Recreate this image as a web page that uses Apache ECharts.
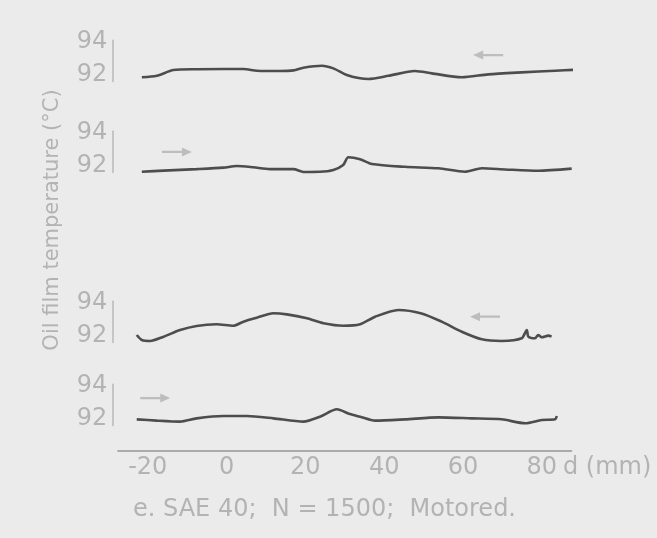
<!DOCTYPE html>
<html>
<head>
<meta charset="utf-8">
<script src="https://cdn.jsdelivr.net/npm/echarts@6/dist/echarts.min.js"></script>
<style>
html,body{margin:0;padding:0;background:#ebebeb;}
#chart{width:657px;height:538px;}
</style>
</head>
<body>
<div id="chart"></div>
<script>
// ---- data (d in mm, oil film temperature in °C) ----
const xTicks = [-20, 0, 20, 40, 60, 80];
const yTicks = [92, 94];

const trace1 = [[-21.5,91.86],[-17.7,91.95],[-13.5,92.30],[-7.6,92.35],[-0.8,92.36],[4.3,92.36],[7.7,92.26],[13.6,92.24],[17.0,92.28],[19.5,92.44],[24.2,92.56],[27.1,92.40],[30.5,92.00],[33.9,91.80],[36.0,91.76],[41.1,91.95],[47.8,92.24],[52.1,92.10],[59.7,91.86],[66.4,92.04],[74.9,92.16],[83.4,92.26],[88.5,92.32]];
const trace2 = [[-21.5,91.65],[-16.0,91.72],[-7.6,91.81],[-0.8,91.90],[2.6,92.00],[6.8,91.92],[11.0,91.81],[17.0,91.81],[19.5,91.64],[23.7,91.65],[27.1,91.76],[29.6,92.06],[30.9,92.53],[33.9,92.41],[36.9,92.12],[45.3,91.95],[53.8,91.86],[60.5,91.65],[64.8,91.86],[70.7,91.79],[79.1,91.71],[87.6,91.84]];
const trace3 = [[-22.8,92.06],[-21.5,91.76],[-19.4,91.70],[-16.0,91.96],[-11.8,92.36],[-7.6,92.61],[-2.5,92.71],[1.7,92.62],[4.3,92.87],[7.7,93.11],[11.9,93.38],[15.3,93.31],[20.4,93.07],[24.6,92.77],[29.6,92.62],[33.9,92.71],[37.7,93.17],[43.6,93.58],[49.5,93.37],[54.6,92.87],[59.7,92.26],[64.8,91.80],[69.8,91.70],[74.9,91.86],[76.2,92.36],[76.6,91.96],[78.3,91.86],[79.1,92.06],[80.0,91.92],[81.7,92.02],[82.5,91.96]];
const trace4 = [[-22.8,91.98],[-17.7,91.90],[-11.8,91.84],[-7.6,92.04],[-0.8,92.18],[5.1,92.18],[11.9,92.04],[19.5,91.84],[23.7,92.14],[28.0,92.59],[31.3,92.30],[33.9,92.14],[37.7,91.90],[45.3,91.98],[53.8,92.10],[62.2,92.04],[69.8,91.98],[75.8,91.74],[80.0,91.94],[83.4,91.98],[83.8,92.18]];

// direction arrows drawn on each panel
const arrowPanels = [0, 1, 2, 3];
const arrowD = [66.4, -12.6, 65.6, -18.1];
const arrowT = [93.21, 92.85, 93.17, 93.27];
const arrowDir = ['left', 'right', 'left', 'right'];

const traces = [trace1, trace2, trace3, trace4];

// ---- layout ----
const labelColor = '#b3b3b3';
const lineColor = '#4d4d4d';
const fontFam = '"DejaVu Sans", sans-serif';
const y92 = [75, 166, 336, 419];
const pxPerDeg = 16.5;
const yMin = 91.6, yMax = 94.1;
const xMin = -27.5, xMax = 87.5;

const grids = [], xAxes = [], yAxes = [], series = [];
y92.forEach((yy, i) => {
  const top = yy - (yMax - 92) * pxPerDeg;
  grids.push({ left: 118.2, width: 453.1, top: top, height: (yMax - yMin) * pxPerDeg });
  const isBottom = i === 3;
  xAxes.push({
    type: 'value', gridIndex: i, min: xMin, max: xMax,
    show: isBottom,
    offset: isBottom ? 25.4 : 0,
    axisLine: { show: isBottom, onZero: false, lineStyle: { color: '#aaaaaa', width: 2 } },
    axisTick: { show: false },
    splitLine: { show: false },
    axisLabel: {
      show: isBottom, customValues: xTicks, margin: 5,
      color: labelColor, fontSize: 24, fontFamily: fontFam
    }
  });
  yAxes.push({
    type: 'value', gridIndex: i, min: yMin, max: yMax,
    offset: 5,
    axisLine: { show: true, onZero: false, lineStyle: { color: '#b8b8b8', width: 1.5 } },
    axisTick: { show: false },
    splitLine: { show: false },
    axisLabel: {
      customValues: yTicks, margin: 6,
      color: labelColor, fontSize: 24, fontFamily: fontFam
    }
  });
  const mp = [];
  arrowPanels.forEach((p, k) => {
    if (p === i) {
      mp.push({
        coord: [arrowD[k], arrowT[k]],
        symbol: 'path://M0,3 L20,3 L20,0 L30,4 L20,8 L20,5 L0,5 Z',
        symbolSize: [30, 9],
        symbolRotate: arrowDir[k] === 'left' ? 180 : 0,
        itemStyle: { color: '#bdbdbd' },
        label: { show: false }
      });
    }
  });
  series.push({
    type: 'line', xAxisIndex: i, yAxisIndex: i,
    data: traces[i], showSymbol: false, smooth: 0.25, clip: false,
    lineStyle: { color: lineColor, width: 2.6 },
    silent: true,
    markPoint: { data: mp, silent: true, animation: false }
  });
});

const chart = echarts.init(document.getElementById('chart'), null, { renderer: 'canvas' });
chart.setOption({
  animation: false,
  backgroundColor: '#ebebeb',
  grid: grids,
  xAxis: xAxes,
  yAxis: yAxes,
  series: series,
  graphic: [
    {
      type: 'text', x: 53, y: 220, rotation: Math.PI / 2,
      style: { text: 'Oil film temperature (°C)', fill: labelColor, font: '21px ' + fontFam, align: 'center', verticalAlign: 'middle' }
    },
    {
      type: 'text', x: 563, y: 468,
      style: { text: 'd (mm)', fill: labelColor, font: '24px ' + fontFam, align: 'left', verticalAlign: 'middle' }
    },
    {
      type: 'text', x: 133, y: 510,
      style: { text: 'e. SAE 40;  N = 1500;  Motored.', fill: labelColor, font: '24px ' + fontFam, align: 'left', verticalAlign: 'middle' }
    }
  ]
});
</script>
</body>
</html>
